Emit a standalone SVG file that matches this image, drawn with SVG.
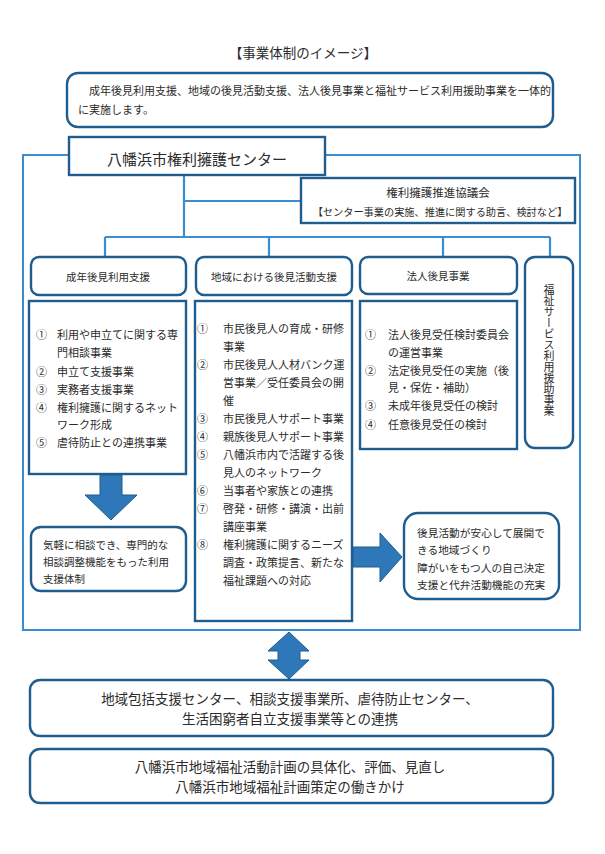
<svg xmlns="http://www.w3.org/2000/svg" width="605" height="854" viewBox="0 0 605 854">
<style>
text{font-family:"Noto Sans CJK JP","Noto Sans",sans-serif;fill:#2b2b2b;dominant-baseline:central}
.frame{fill:none;stroke:#3a8dd0;stroke-width:2}
.conn{fill:none;stroke:#3a8dd0;stroke-width:2.2}
.box{fill:#fff;stroke:#1f5d8f;stroke-width:2.4}
.arrow{fill:#2e78ba;stroke:#1f5d8f;stroke-width:1}
.c{text-anchor:middle}
.li{font-size:11px}
.hd{font-size:10.5px}
.big{font-size:13.5px}
</style>
<rect width="605" height="854" fill="#fff"/>
<text x="303" y="52" class="c" style="font-size:13.5px">【事業体制のイメージ】</text>

<g id="intro">
<rect x="67" y="73" width="486" height="54" rx="11" class="box"/>
<text x="89" y="90" class="li">成年後見利用支援、地域の後見活動支援、法人後見事業と福祉サービス利用援助事業を一体的</text>
<text x="78" y="109" class="li">に実施します。</text>
</g>

<rect id="outer-frame" x="23" y="155" width="557" height="475" class="frame"/>

<g id="connectors">
<path class="conn" d="M184 175 V237 M184 201 H301 M105 237 H550 M105 237 V257 M269 237 V257 M443 237 V257 M550 237 V257"/>
</g>

<g id="center">
<rect x="69" y="137" width="256" height="38" class="box"/>
<text x="197" y="158" class="c" style="font-size:15px">八幡浜市権利擁護センター</text>
</g>

<g id="council">
<rect x="301" y="178" width="274" height="45" class="box"/>
<text x="438" y="192" class="c" style="font-size:11.5px">権利擁護推進協議会</text>
<text x="440" y="211" class="c" style="font-size:10.2px">【センター事業の実施、推進に関する助言、検討など】</text>
</g>

<g id="h1">
<rect x="31" y="257" width="155" height="38" rx="8" class="box"/>
<text x="108" y="276" class="c hd">成年後見利用支援</text>
</g>
<g id="h2">
<rect x="196" y="257" width="156" height="38" rx="8" class="box"/>
<text x="274" y="276" class="c hd">地域における後見活動支援</text>
</g>
<g id="h3">
<rect x="360" y="257" width="157" height="37" rx="8" class="box"/>
<text x="438" y="275" class="c hd">法人後見事業</text>
</g>
<g id="h4">
<rect x="525" y="257" width="48" height="191" rx="10" class="box"/>
<text x="549" y="284" style="font-size:11px;writing-mode:vertical-rl;dominant-baseline:auto">福祉サービス利用援助事業</text>
</g>

<g id="list1">
<rect x="29" y="301" width="157" height="173" class="box"/>
<g class="li">
<text x="36" y="334">①</text><text x="57" y="334">利用や申立てに関する専</text>
<text x="57" y="352">門相談事業</text>
<text x="36" y="371">②</text><text x="57" y="371">申立て支援事業</text>
<text x="36" y="389">③</text><text x="57" y="389">実務者支援事業</text>
<text x="36" y="407">④</text><text x="57" y="407">権利擁護に関するネット</text>
<text x="57" y="424">ワーク形成</text>
<text x="36" y="442">⑤</text><text x="57" y="442">虐待防止との連携事業</text>
</g>
</g>

<g id="list2">
<rect x="195" y="301" width="157" height="320" class="box"/>
<g class="li">
<text x="197" y="328">①</text><text x="223" y="328">市民後見人の育成・研修</text>
<text x="223" y="346">事業</text>
<text x="197" y="364">②</text><text x="223" y="364">市民後見人人材バンク運</text>
<text x="223" y="382">営事業／受任委員会の開</text>
<text x="223" y="400">催</text>
<text x="197" y="418">③</text><text x="223" y="418">市民後見人サポート事業</text>
<text x="197" y="436">④</text><text x="223" y="436">親族後見人サポート事業</text>
<text x="197" y="454">⑤</text><text x="223" y="454">八幡浜市内で活躍する後</text>
<text x="223" y="472">見人のネットワーク</text>
<text x="197" y="490">⑥</text><text x="223" y="490">当事者や家族との連携</text>
<text x="197" y="508">⑦</text><text x="223" y="508">啓発・研修・講演・出前</text>
<text x="223" y="526">講座事業</text>
<text x="197" y="544">⑧</text><text x="223" y="544">権利擁護に関するニーズ</text>
<text x="223" y="562">調査・政策提言、新たな</text>
<text x="223" y="580">福祉課題への対応</text>
</g>
</g>

<g id="list3">
<rect x="360" y="301" width="157" height="148" class="box"/>
<g class="li">
<text x="365" y="334">①</text><text x="388" y="334">法人後見受任検討委員会</text>
<text x="388" y="352">の運営事業</text>
<text x="365" y="370">②</text><text x="388" y="370">法定後見受任の実施（後</text>
<text x="388" y="387">見・保佐・補助）</text>
<text x="365" y="405">③</text><text x="388" y="405">未成年後見受任の検討</text>
<text x="365" y="424">④</text><text x="388" y="424">任意後見受任の検討</text>
</g>
</g>

<g id="arrows">
<path class="arrow" d="M100 475 H122 V495 H137 L111 520 L85 495 H100 Z"/>
<path class="arrow" d="M353 547 H380 V533 L402 557 L380 582 V567 H353 Z"/>
<path class="arrow" d="M289 632 L309 651 H300 V660 H309 L289 679 L268 660 H278 V651 H268 Z"/>
</g>

<g id="result1">
<rect x="31" y="527" width="155" height="64" rx="10" class="box"/>
<g style="font-size:10.5px">
<text x="43" y="544">気軽に相談でき、専門的な</text>
<text x="43" y="561">相談調整機能をもった利用</text>
<text x="43" y="578">支援体制</text>
</g>
</g>

<g id="result2">
<rect x="404" y="513" width="155" height="86" rx="14" class="box"/>
<g style="font-size:10.7px">
<text x="417" y="532">後見活動が安心して展開で</text>
<text x="417" y="549">きる地域づくり</text>
<text x="417" y="567">障がいをもつ人の自己決定</text>
<text x="417" y="584">支援と代弁活動機能の充実</text>
</g>
</g>

<g id="link">
<rect x="30" y="680" width="523" height="56" rx="10" class="box"/>
<text x="290" y="698" class="c big">地域包括支援センター、相談支援事業所、虐待防止センター、</text>
<text x="290" y="718" class="c big">生活困窮者自立支援事業等との連携</text>
</g>

<g id="plan">
<rect x="30" y="749" width="523" height="54" rx="10" class="box"/>
<text x="290" y="766" class="c big">八幡浜市地域福祉活動計画の具体化、評価、見直し</text>
<text x="290" y="786" class="c big">八幡浜市地域福祉計画策定の働きかけ</text>
</g>
</svg>
